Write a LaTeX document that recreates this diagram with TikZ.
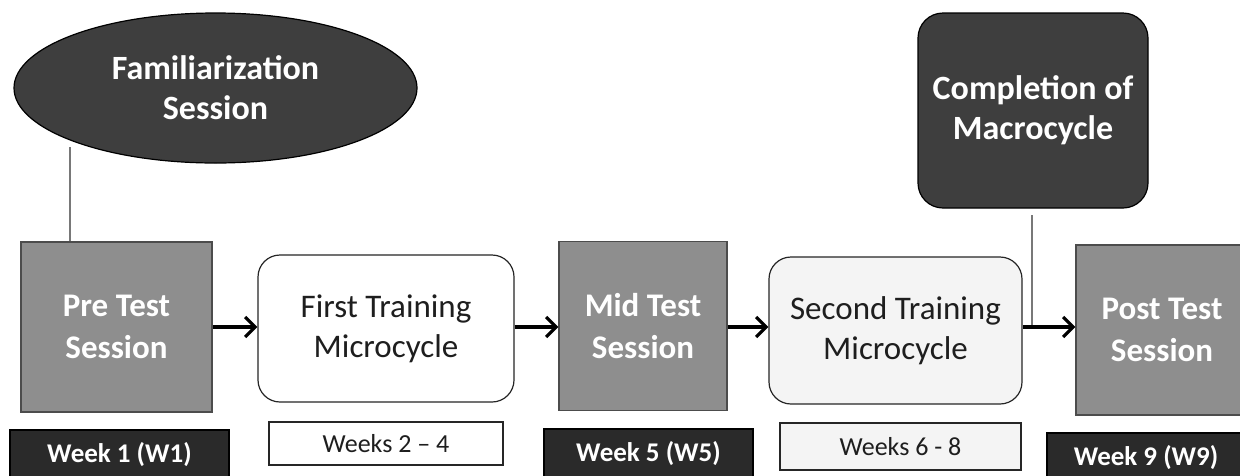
\documentclass[tikz,border=0pt]{standalone}
\usepackage{fontspec}
\setmainfont{Carlito}
\usetikzlibrary{shapes.geometric,arrows.meta}
\definecolor{midgray}{RGB}{142,142,142}
\definecolor{darkfill}{RGB}{62,62,62}
\definecolor{labelfill}{RGB}{42,42,42}
\definecolor{lightfill}{RGB}{244,244,244}
\definecolor{inktext}{RGB}{30,30,30}
\definecolor{linegray}{RGB}{120,120,120}
\begin{document}
\begin{tikzpicture}[x=1pt,y=-1pt,
  box/.style={draw=black!70,line width=1.2pt,inner sep=0pt,align=center,
    font=\fontsize{33}{40}\selectfont},
  testbox/.style={box,fill=midgray,text=white,font=\fontsize{33}{42}\selectfont\bfseries},
  trainbox/.style={box,draw=black!85,rounded corners=22pt,text=inktext},
  darkbox/.style={box,draw=black,fill=darkfill,text=white,font=\fontsize{34}{40}\selectfont\bfseries},
  weekdark/.style={box,draw=black,fill=labelfill,text=white,font=\fontsize{27}{30}\selectfont\bfseries},
  weeklight/.style={box,draw=black!85,fill=white,text=inktext,font=\fontsize{26}{30}\selectfont},
  flow/.style={line width=3.2pt,-{Straight Barb[length=10pt,width=20pt,line width=3.2pt]}},
  link/.style={draw=linegray,line width=1.6pt}]
\useasboundingbox (0,0) rectangle (1240,475);
\fill[white] (0,0) rectangle (1240,475);

% top elements
\node[darkbox,ellipse,minimum width=403pt,minimum height=150pt] (fam) at (215.5,88)
  {Familiarization\\Session};
\node[darkbox,rounded corners=25pt,minimum width=230pt,minimum height=195pt] (comp) at (1033,110.5)
  {Completion of\\Macrocycle};

% main row
\node[testbox,minimum width=191pt,minimum height=170pt] (pre) at (116.5,327) {Pre Test\\Session};
\node[trainbox,fill=white,minimum width=256pt,minimum height=147pt] (first) at (386,328.5)
  {First Training\\Microcycle};
\node[testbox,minimum width=168pt,minimum height=169pt] (mid) at (643,326) {Mid Test\\Session};
\node[trainbox,fill=lightfill,minimum width=253pt,minimum height=147pt] (second) at (895.5,330.5)
  {Second Training\\Microcycle};
\node[testbox,minimum width=172pt,minimum height=170pt] (post) at (1162,330) {Post Test\\Session};

% week labels
\node[weekdark,minimum width=219pt,minimum height=50pt] (w1) at (119.5,455) {Week 1 (W1)};
\node[weeklight,minimum width=234pt,minimum height=43pt] (w24) at (386,443.5) {Weeks 2 -- 4};
\node[weekdark,minimum width=209pt,minimum height=50pt] (w5) at (648.5,454) {Week 5 (W5)};
\node[weeklight,fill=lightfill,minimum width=241pt,minimum height=47pt] (w68) at (900.5,446.5) {Weeks 6 - 8};
\node[weekdark,minimum width=198pt,minimum height=50pt] (w9) at (1146,458) {Week 9 (W9)};

% connectors
\coordinate (f) at (70,147);
\draw[link] (f) -- (f |- pre.north);
\coordinate (c) at (1032,215);
\coordinate (j) at (1032,327);
\draw[link] (c) -- (j);

\draw[flow] (pre.east) -- (pre.east -| first.west);
\draw[flow] (first.east |- pre.east) -- (mid.west |- pre.east);
\draw[flow] (mid.east |- pre.east) -- (second.west |- pre.east);
\draw[flow] (second.east |- j) -- (post.west |- j);
\end{tikzpicture}
\end{document}
